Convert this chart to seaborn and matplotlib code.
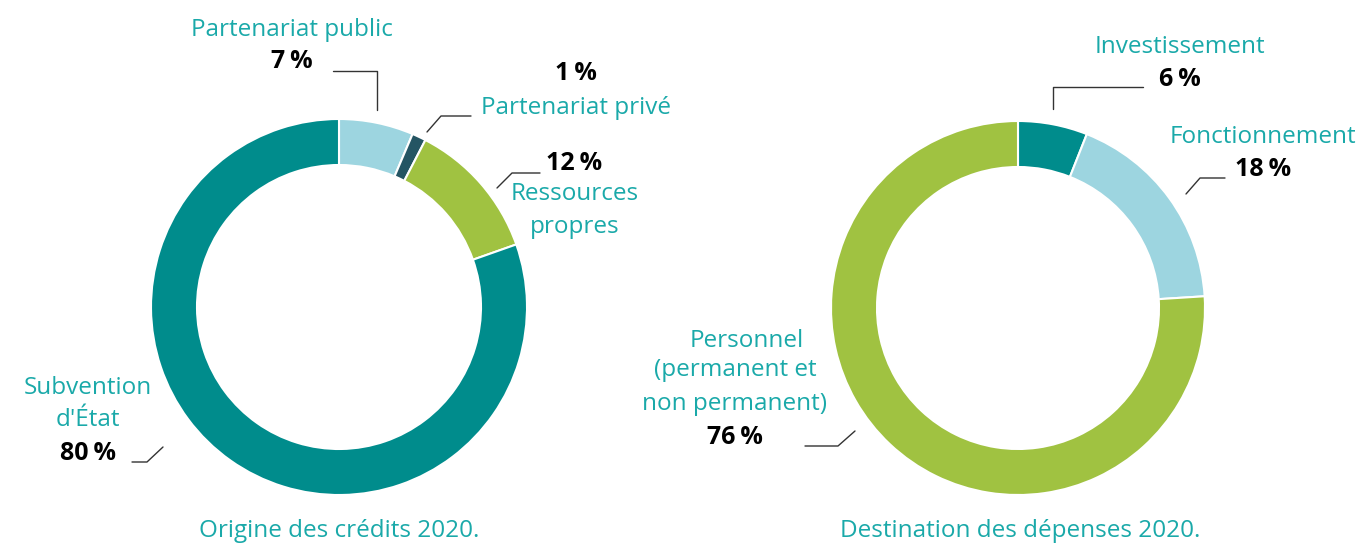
import seaborn as sns
import matplotlib.pyplot as plt

# data
origineLabels = ['Partenariat public', 'Partenariat privé', 'Ressources propres', "Subvention d'État"]
origineValues = [6.4, 1.2, 12.0, 80.4]
originePct = ['7', '1', '12', '80']

destLabels = ['Investissement', 'Fonctionnement', 'Personnel (permanent et non permanent)']
destValues = [6, 18, 76]
destPct = ['6', '18', '76']

teal = '#008C8C'
lightBlue = '#9DD5E0'
darkBlue = '#245563'
green = '#A0C241'
labelColor = '#1AA9A9'

sns.set_theme(style='white')
plt.rcParams['font.family'] = ['Open Sans', 'DejaVu Sans']

H = 544
fig = plt.figure(figsize=(13.63, 5.44), dpi=100)
ax = fig.add_axes([0, 0, 1, 1])


def Y(y):
    return H - y


wp = dict(width=46, edgecolor='white', linewidth=1.5)
ax.pie(origineValues, radius=188, center=(339, Y(307)), startangle=90, counterclock=False,
       colors=[lightBlue, darkBlue, green, teal], wedgeprops=wp)
ax.pie(destValues, radius=187, center=(1018, Y(308)), startangle=90, counterclock=False,
       colors=[teal, lightBlue, green], wedgeprops=wp)

ax.set_xlim(0, 1363)
ax.set_ylim(0, H)
ax.set_aspect('equal')
ax.axis('off')


def lab(x, y, s, ha='center'):
    ax.text(x, Y(y), s, color=labelColor, fontsize=17.5, ha=ha, va='center')


def pct(x, y, s, ha='center'):
    ax.text(x, Y(y), s + '\u2009%', color='black', fontsize=18, fontweight='bold', ha=ha, va='center')


def leader(pts):
    ax.plot([p[0] for p in pts], [Y(p[1]) for p in pts], color='#333333', lw=1)


# left donut labels
lab(292, 30, origineLabels[0])
pct(292, 62, originePct[0])
leader([(333, 71), (377, 71), (377, 110)])

pct(576, 74, originePct[1])
lab(576, 108, origineLabels[1])
leader([(427, 132), (441, 116), (471, 116)])

pct(574, 164, originePct[2])
lab(575, 194, 'Ressources')
lab(575, 227, 'propres')
leader([(497, 188), (512, 173), (540, 173)])

lab(88, 388, 'Subvention')
lab(88, 420, "d'État")
pct(88, 453, originePct[3])
leader([(132, 462), (147, 462), (163, 447)])

ax.text(339, Y(531), 'Origine des crédits 2020.', color=labelColor, fontsize=17.5, ha='center', va='center')

# right donut labels
lab(1180, 47, destLabels[0])
pct(1180, 80, destPct[0])
leader([(1053, 109), (1053, 87), (1143, 87)])

lab(1263, 137, destLabels[1])
pct(1263, 170, destPct[1])
leader([(1186, 194), (1200, 178), (1225, 178)])

lab(747, 341, 'Personnel')
lab(735, 370, '(permanent et')
lab(734, 404, 'non permanent)')
pct(735, 437, destPct[2])
leader([(805, 446), (838, 446), (855, 431)])

ax.text(1020, Y(531), 'Destination des dépenses 2020.', color=labelColor, fontsize=17.5, ha='center', va='center')

fig.savefig('out.png', dpi=100)
